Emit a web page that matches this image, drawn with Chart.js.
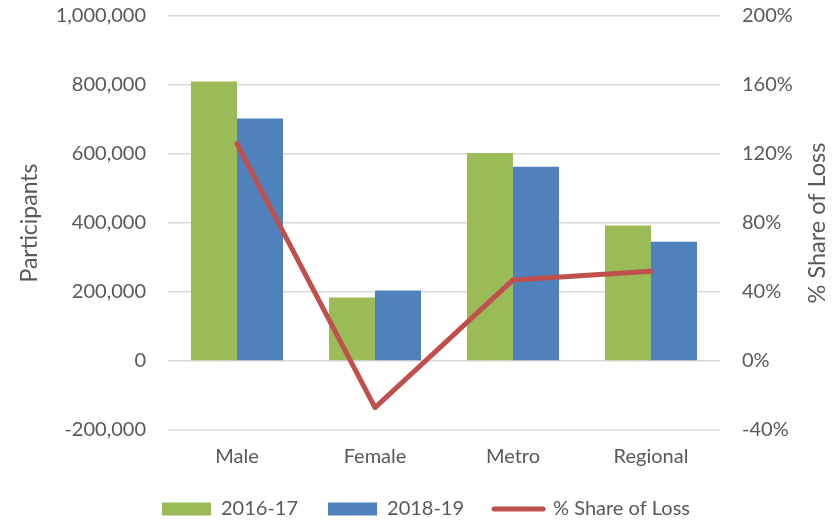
<!DOCTYPE html>
<html><head><meta charset="utf-8">
<script src="https://cdn.jsdelivr.net/npm/chart.js@4/dist/chart.umd.min.js"></script>
<style>html,body{margin:0;padding:0;background:#fff}#wrap{width:840px;height:521px}</style>
</head><body><div id="wrap"><canvas id="c" width="840" height="521"></canvas></div>
<script>
const categories = ['Male', 'Female', 'Metro', 'Regional'];
const participants2016 = [810000, 184000, 603000, 393000];
const participants2018 = [703000, 204000, 563000, 346000];
const shareOfLoss = [126, -27, 47, 52];
const seriesNames = ['2016-17', '2018-19', '% Share of Loss'];
const leftAxis = { min: -200000, max: 1000000, step: 200000, title: 'Participants' };
const rightAxis = { min: -40, max: 200, step: 40, title: '% Share of Loss' };

const GREEN = '#9BBB59', BLUE = '#4F81BD', RED = '#C0504D', TXT = '#595959', GRID = '#d9d9d9';
const FONT = 'Lato, "Open Sans", sans-serif';

const rightTitlePlugin = {
  id: 'rightTitle',
  afterDraw(chart) {
    const ctx = chart.ctx, a = chart.chartArea;
    ctx.save();
    ctx.translate(817, (a.top + a.bottom) / 2);
    ctx.rotate(-Math.PI / 2);
    ctx.fillStyle = TXT;
    ctx.font = '23.5px ' + FONT;
    ctx.textAlign = 'center';
    ctx.textBaseline = 'middle';
    ctx.fillText(rightAxis.title, 0, 0);
    ctx.restore();
  }
};

new Chart(document.getElementById('c'), {
  data: {
    labels: categories,
    datasets: [
      { type: 'bar', label: seriesNames[0], data: participants2016, backgroundColor: GREEN, yAxisID: 'y', order: 1, pointStyle: 'rect' },
      { type: 'bar', label: seriesNames[1], data: participants2018, backgroundColor: BLUE, yAxisID: 'y', order: 1, pointStyle: 'rect' },
      { type: 'line', label: seriesNames[2], data: shareOfLoss, borderColor: RED, backgroundColor: RED, borderWidth: 5,
        tension: 0, pointRadius: 0, pointHoverRadius: 0, pointStyle: 'line', pointBorderColor: RED, pointBorderWidth: 5,
        borderCapStyle: 'round', borderJoinStyle: 'round', yAxisID: 'y1', order: 0 }
    ]
  },
  plugins: [rightTitlePlugin],
  options: {
    responsive: false, animation: false, devicePixelRatio: 1,
    layout: { padding: { top: 16, left: 12, right: 0, bottom: -8 } },
    datasets: { bar: { barPercentage: 1, categoryPercentage: 0.667 } },
    plugins: {
      tooltip: { enabled: false },
      legend: {
        position: 'bottom',
        labels: {
          usePointStyle: true, pointStyleWidth: 49, boxHeight: 13, padding: 30,
          color: TXT, font: { family: FONT, size: 20 },
          sort: (a, b) => a.datasetIndex - b.datasetIndex,
          generateLabels(chart) {
            const items = Chart.defaults.plugins.legend.labels.generateLabels(chart);
            items.forEach(it => {
              const ds = chart.data.datasets[it.datasetIndex];
              if (ds.type === 'line') { it.lineCap = 'round'; it.lineWidth = 5; it.strokeStyle = RED; }
              else { it.lineWidth = 0; }
            });
            return items;
          }
        }
      }
    },
    scales: {
      x: {
        grid: { display: false }, border: { display: false },
        ticks: { color: TXT, font: { family: FONT, size: 20 }, padding: 7 },
        afterFit(s) { s.height = 39; }
      },
      y: {
        position: 'left', min: leftAxis.min, max: leftAxis.max,
        ticks: { stepSize: leftAxis.step, color: TXT, font: { family: FONT, size: 20 }, padding: 22,
          callback: v => v.toLocaleString('en-US') },
        grid: { color: GRID, lineWidth: 1.5, drawTicks: false }, border: { display: false },
        title: { display: true, text: leftAxis.title, color: TXT, font: { family: FONT, size: 23 }, padding: { top: 4 } },
        afterFit(s) { s.width = 156; s.paddingTop = 0; s.paddingBottom = 0; }
      },
      y1: {
        position: 'right', min: rightAxis.min, max: rightAxis.max,
        ticks: { stepSize: rightAxis.step, color: TXT, font: { family: FONT, size: 20 }, padding: 22,
          callback: v => v + '%' },
        grid: { display: false, drawTicks: false }, border: { display: false },
        title: { display: false },
        afterFit(s) { s.width = 120; s.paddingTop = 0; s.paddingBottom = 0; }
      }
    }
  }
});
</script></body></html>
